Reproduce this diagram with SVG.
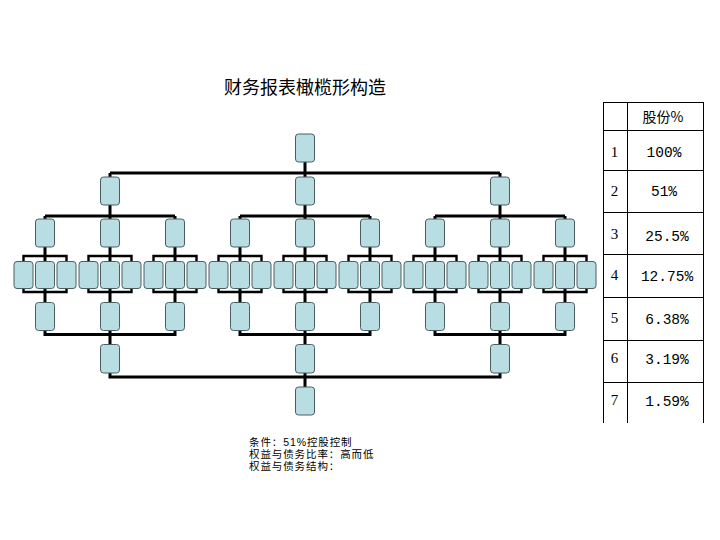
<svg xmlns="http://www.w3.org/2000/svg" width="720" height="540" viewBox="0 0 720 540">
<style>
.node rect{fill:#B8DDE2;stroke:#4A5E60;stroke-width:1}
.main{stroke:#000;stroke-width:3;fill:none}
.thin{stroke:#000;stroke-width:2.4;fill:none}
.tbl{stroke:#000;stroke-width:1;fill:none}
.cjk{font-family:"Noto Sans CJK SC","Noto Sans CJK JP",sans-serif;fill:#000}
.note{font-family:"Liberation Sans","Noto Sans CJK SC",sans-serif;font-size:10.5px;letter-spacing:0.9px;fill:#000}
.num{font-family:"Liberation Serif",serif;font-size:15px;fill:#000;text-anchor:middle}
.val{font-family:"Liberation Mono",monospace;font-size:14.5px;fill:#000;text-anchor:middle}
</style>
<rect width="720" height="540" fill="#fff"/>
<text class="cjk" x="305" y="94" font-size="18" text-anchor="middle">财务报表橄榄形构造</text>

<g id="connectors">
<path class="main" d="M305 162V177M110 173H500M110 173V177M500 173V177"/>
<path class="main" d="M110 205V219M45 216H175M45 216V219M175 216V219"/>
<path class="main" d="M305 205V219M240 216H370M240 216V219M370 216V219"/>
<path class="main" d="M500 205V219M435 216H565M435 216V219M565 216V219"/>
<path class="main" d="M45 247V262M110 247V262M175 247V262M240 247V262M305 247V262M370 247V262M435 247V262M500 247V262M565 247V262"/>
<path class="thin" d="M23.5 262V256H66.5V262M88.5 262V256H131.5V262M153.5 262V256H196.5V262M218.5 262V256H261.5V262M283.5 262V256H326.5V262M348.5 262V256H391.5V262M413.5 262V256H456.5V262M478.5 262V256H521.5V262M543.5 262V256H586.5V262"/>
<path class="thin" d="M23.5 288V292H66.5V288M88.5 288V292H131.5V288M153.5 288V292H196.5V288M218.5 288V292H261.5V288M283.5 288V292H326.5V288M348.5 288V292H391.5V288M413.5 288V292H456.5V288M478.5 288V292H521.5V288M543.5 288V292H586.5V288"/>
<path class="main" d="M45 288V303M110 288V303M175 288V303M240 288V303M305 288V303M370 288V303M435 288V303M500 288V303M565 288V303"/>
<path class="main" d="M45 330V334.5H175V330M110 330V345"/>
<path class="main" d="M240 330V334.5H370V330M305 330V345"/>
<path class="main" d="M435 330V334.5H565V330M500 330V345"/>
<path class="main" d="M110 373V377H500V373M305 373V387"/>
</g>

<g id="root" class="node"><rect x="295.5" y="134" width="19" height="28" rx="3"/></g>

<g id="l1-1" class="node"><rect x="100.5" y="177" width="19" height="28" rx="3"/></g>
<g id="l1-2" class="node"><rect x="295.5" y="177" width="19" height="28" rx="3"/></g>
<g id="l1-3" class="node"><rect x="490.5" y="177" width="19" height="28" rx="3"/></g>

<g id="l2-1" class="node"><rect x="35.5" y="219" width="19" height="28" rx="3"/></g>
<g id="l2-2" class="node"><rect x="100.5" y="219" width="19" height="28" rx="3"/></g>
<g id="l2-3" class="node"><rect x="165.5" y="219" width="19" height="28" rx="3"/></g>
<g id="l2-4" class="node"><rect x="230.5" y="219" width="19" height="28" rx="3"/></g>
<g id="l2-5" class="node"><rect x="295.5" y="219" width="19" height="28" rx="3"/></g>
<g id="l2-6" class="node"><rect x="360.5" y="219" width="19" height="28" rx="3"/></g>
<g id="l2-7" class="node"><rect x="425.5" y="219" width="19" height="28" rx="3"/></g>
<g id="l2-8" class="node"><rect x="490.5" y="219" width="19" height="28" rx="3"/></g>
<g id="l2-9" class="node"><rect x="555.5" y="219" width="19" height="28" rx="3"/></g>

<g id="l3-1" class="node"><rect x="14" y="261.5" width="19" height="27" rx="3"/></g>
<g id="l3-2" class="node"><rect x="35.5" y="261.5" width="19" height="27" rx="3"/></g>
<g id="l3-3" class="node"><rect x="57" y="261.5" width="19" height="27" rx="3"/></g>
<g id="l3-4" class="node"><rect x="79" y="261.5" width="19" height="27" rx="3"/></g>
<g id="l3-5" class="node"><rect x="100.5" y="261.5" width="19" height="27" rx="3"/></g>
<g id="l3-6" class="node"><rect x="122" y="261.5" width="19" height="27" rx="3"/></g>
<g id="l3-7" class="node"><rect x="144" y="261.5" width="19" height="27" rx="3"/></g>
<g id="l3-8" class="node"><rect x="165.5" y="261.5" width="19" height="27" rx="3"/></g>
<g id="l3-9" class="node"><rect x="187" y="261.5" width="19" height="27" rx="3"/></g>
<g id="l3-10" class="node"><rect x="209" y="261.5" width="19" height="27" rx="3"/></g>
<g id="l3-11" class="node"><rect x="230.5" y="261.5" width="19" height="27" rx="3"/></g>
<g id="l3-12" class="node"><rect x="252" y="261.5" width="19" height="27" rx="3"/></g>
<g id="l3-13" class="node"><rect x="274" y="261.5" width="19" height="27" rx="3"/></g>
<g id="l3-14" class="node"><rect x="295.5" y="261.5" width="19" height="27" rx="3"/></g>
<g id="l3-15" class="node"><rect x="317" y="261.5" width="19" height="27" rx="3"/></g>
<g id="l3-16" class="node"><rect x="339" y="261.5" width="19" height="27" rx="3"/></g>
<g id="l3-17" class="node"><rect x="360.5" y="261.5" width="19" height="27" rx="3"/></g>
<g id="l3-18" class="node"><rect x="382" y="261.5" width="19" height="27" rx="3"/></g>
<g id="l3-19" class="node"><rect x="404" y="261.5" width="19" height="27" rx="3"/></g>
<g id="l3-20" class="node"><rect x="425.5" y="261.5" width="19" height="27" rx="3"/></g>
<g id="l3-21" class="node"><rect x="447" y="261.5" width="19" height="27" rx="3"/></g>
<g id="l3-22" class="node"><rect x="469" y="261.5" width="19" height="27" rx="3"/></g>
<g id="l3-23" class="node"><rect x="490.5" y="261.5" width="19" height="27" rx="3"/></g>
<g id="l3-24" class="node"><rect x="512" y="261.5" width="19" height="27" rx="3"/></g>
<g id="l3-25" class="node"><rect x="534" y="261.5" width="19" height="27" rx="3"/></g>
<g id="l3-26" class="node"><rect x="555.5" y="261.5" width="19" height="27" rx="3"/></g>
<g id="l3-27" class="node"><rect x="577" y="261.5" width="19" height="27" rx="3"/></g>

<g id="l4-1" class="node"><rect x="35.5" y="302.5" width="19" height="28" rx="3"/></g>
<g id="l4-2" class="node"><rect x="100.5" y="302.5" width="19" height="28" rx="3"/></g>
<g id="l4-3" class="node"><rect x="165.5" y="302.5" width="19" height="28" rx="3"/></g>
<g id="l4-4" class="node"><rect x="230.5" y="302.5" width="19" height="28" rx="3"/></g>
<g id="l4-5" class="node"><rect x="295.5" y="302.5" width="19" height="28" rx="3"/></g>
<g id="l4-6" class="node"><rect x="360.5" y="302.5" width="19" height="28" rx="3"/></g>
<g id="l4-7" class="node"><rect x="425.5" y="302.5" width="19" height="28" rx="3"/></g>
<g id="l4-8" class="node"><rect x="490.5" y="302.5" width="19" height="28" rx="3"/></g>
<g id="l4-9" class="node"><rect x="555.5" y="302.5" width="19" height="28" rx="3"/></g>

<g id="l5-1" class="node"><rect x="100.5" y="344.5" width="19" height="28.5" rx="3"/></g>
<g id="l5-2" class="node"><rect x="295.5" y="344.5" width="19" height="28.5" rx="3"/></g>
<g id="l5-3" class="node"><rect x="490.5" y="344.5" width="19" height="28.5" rx="3"/></g>

<g id="bottom" class="node"><rect x="295.5" y="387" width="19" height="28" rx="3"/></g>

<g id="table">
<path class="tbl" d="M603.5 102V423M627.5 102V423M703.5 102V423M603 102.5H704M603 130.5H704M603 170.5H704M603 212.5H704M603 254.5H704M603 297.5H704M603 340.5H704M603 382.5H704"/>
<text class="cjk" x="663" y="122" font-size="14" text-anchor="middle">股份%</text>
<text class="num" x="614.5" y="157">1</text>
<text class="num" x="614.5" y="196">2</text>
<text class="num" x="614.5" y="239">3</text>
<text class="num" x="614.5" y="280">4</text>
<text class="num" x="614.5" y="323">5</text>
<text class="num" x="614.5" y="363">6</text>
<text class="num" x="614.5" y="405">7</text>
<text class="val" x="664" y="157">100%</text>
<text class="val" x="664" y="196">51%</text>
<text class="val" x="667" y="241">25.5%</text>
<text class="val" x="667" y="281">12.75%</text>
<text class="val" x="667" y="324">6.38%</text>
<text class="val" x="667" y="364">3.19%</text>
<text class="val" x="667" y="406">1.59%</text>
</g>

<g id="notes">
<text class="note" x="249" y="446">条件：51%控股控制</text>
<text class="note" x="249" y="458">权益与债务比率：高而低</text>
<text class="note" x="249" y="470">权益与债务结构：</text>
</g>
</svg>
